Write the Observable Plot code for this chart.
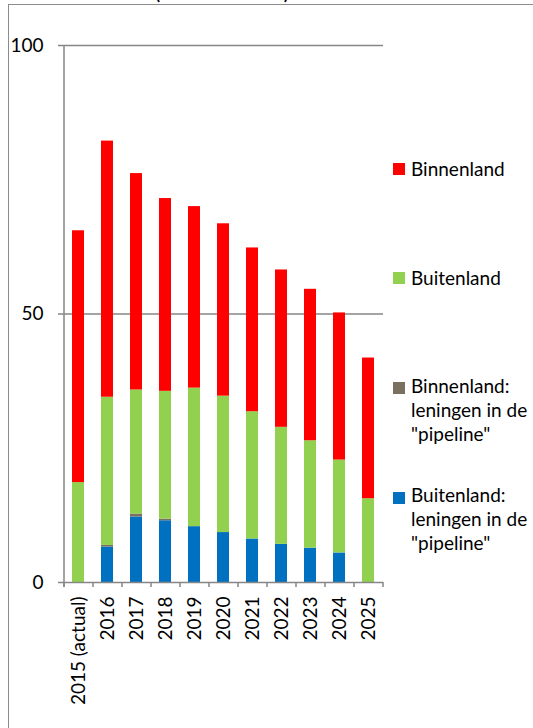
<!DOCTYPE html>
<html>
<head>
<meta charset="utf-8">
<script src="https://cdn.jsdelivr.net/npm/d3@7"></script>
<script src="https://cdn.jsdelivr.net/npm/@observablehq/plot@0.6"></script>
<style>
  html, body { margin: 0; padding: 0; background: #fff; }
  #wrap { position: relative; width: 533px; height: 728px; overflow: hidden; font-family: Lato, "Open Sans", sans-serif; color: #000; }
  #frame { position: absolute; left: 8px; top: 4px; width: 620px; height: 820px; border: 1.5px solid #8c8c8c; box-sizing: border-box; }
  #title { position: absolute; left: 0; width: 444px; top: -22px; text-align: center; font-size: 24px; line-height: 24px; white-space: nowrap; }
  #chart { position: absolute; left: 0; top: 0; }
  .lg { position: absolute; left: 411px; font-size: 19px; line-height: 24px; white-space: nowrap; }
  .sw { position: absolute; left: 393px; width: 12px; height: 12px; }
</style>
</head>
<body>
<div id="wrap">
  <div id="title">(in mld. euro)</div>
  <div id="frame"></div>
  <div id="chart"></div>
  <div id="legend"></div>
</div>
<script>
// ---- data ----
const years = ["2015 (actual)", "2016", "2017", "2018", "2019", "2020", "2021", "2022", "2023", "2024", "2025"];
const binnenland      = [46.9, 47.7, 40.3, 35.9, 33.8, 32.1, 30.5, 29.3, 28.2, 27.4, 26.2];
const buitenland      = [18.6, 27.6, 23.1, 23.8, 25.8, 25.4, 23.7, 21.8, 20.0, 17.3, 15.6];
const binnenPipeline  = [0, 0.3, 0.55, 0.3, 0, 0, 0, 0, 0, 0, 0];
const buitenPipeline  = [0, 6.6, 12.2, 11.5, 10.4, 9.3, 8.1, 7.1, 6.4, 5.5, 0];
const seriesNames = ["Binnenland", "Buitenland", "Binnenland: leningen in de \"pipeline\"", "Buitenland: leningen in de \"pipeline\""];
const seriesColors = ["#FF0000", "#92D050", "#7A705F", "#0070C0"];
const legendLines = [["Binnenland"], ["Buitenland"], ["Binnenland:", "leningen in de", "\"pipeline\""], ["Buitenland:", "leningen in de", "\"pipeline\""]];
const yTicks = [0, 50, 100];

// stack order bottom → top
const stackSeries = [
  [seriesNames[3], buitenPipeline],
  [seriesNames[2], binnenPipeline],
  [seriesNames[1], buitenland],
  [seriesNames[0], binnenland]
];
const rows = [];
for (const [name, vals] of stackSeries) {
  years.forEach((yr, i) => rows.push({year: yr, series: name, value: vals[i]}));
}

const W = 400, H = 728, mL = 64, mR = 17, mT = 45, mB = 146;
const step = (W - mL - mR) / years.length;
const grid = "#868686";

const chart = Plot.plot({
  width: W, height: H,
  marginLeft: mL, marginRight: mR, marginTop: mT, marginBottom: mB,
  style: {fontFamily: "Lato, 'Open Sans', sans-serif", fontSize: "19px", color: "#000", background: "transparent", overflow: "visible"},
  x: {domain: years, paddingInner: 0.57, paddingOuter: 0.285, tickRotate: -90, tickSize: 0, tickPadding: 14, label: null},
  y: {domain: [0, 100], ticks: yTicks, tickSize: 0, tickPadding: 21, label: null},
  color: {domain: seriesNames, range: seriesColors},
  marks: [
    Plot.ruleY(yTicks.filter(d => d > 0), {y: d => d, stroke: grid, strokeWidth: 1.5, insetLeft: -6}),
    Plot.barY(rows, {x: "year", y: "value", fill: "series"}),
    Plot.ruleY([0], {y: d => d, stroke: grid, strokeWidth: 1.5, insetLeft: -6}),
    Plot.ruleX(years.slice(0, 1), {x: d => d, dx: -step / 2, y1: 100, y2: 0, insetBottom: -5, stroke: grid, strokeWidth: 1.5}),
    Plot.ruleX(years, {x: d => d, dx: -step / 2, y1: 0, y2: 0, insetBottom: -5, stroke: grid, strokeWidth: 1.5}),
    Plot.ruleX(years.slice(-1), {x: d => d, dx: step / 2, y1: 0, y2: 0, insetBottom: -5, stroke: grid, strokeWidth: 1.5})
  ]
});
document.getElementById("chart").appendChild(chart);

// legend
const legendTops = [157, 266, 374, 483];
const swatchTops = [163, 272, 382, 492];
const lg = document.getElementById("legend");
seriesNames.forEach((name, i) => {
  const sw = document.createElement("div");
  sw.className = "sw";
  sw.style.top = swatchTops[i] + "px";
  sw.style.background = seriesColors[i];
  lg.appendChild(sw);
  const t = document.createElement("div");
  t.className = "lg";
  t.style.top = legendTops[i] + "px";
  t.innerHTML = legendLines[i].map(s => s.replace(/&/g, "&amp;").replace(/</g, "&lt;")).join("<br>");
  lg.appendChild(t);
});
</script>
</body>
</html>
